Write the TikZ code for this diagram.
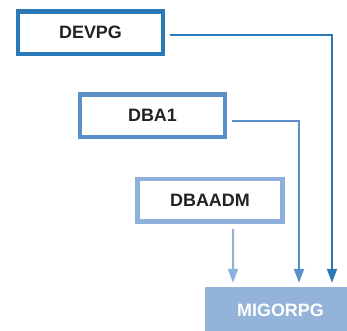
\documentclass[tikz,border=0pt]{standalone}
\usepackage{fontspec}
\setmainfont{Liberation Sans}
\usetikzlibrary{arrows.meta}

\definecolor{devblue}{HTML}{2A7AB9}
\definecolor{dbablue}{HTML}{5B8FC7}
\definecolor{admblue}{HTML}{8EB1DC}
\definecolor{migblue}{HTML}{94B3DA}
\definecolor{textgray}{HTML}{222222}

\tikzset{
	dbbox/.style={draw=#1, line width=4.5bp, fill=white, minimum width=145bp,
		minimum height=42.5bp, inner sep=0pt, font=\fontsize{18}{20}\selectfont\bfseries,
		text=textgray},
	feed/.style={draw=#1, line width=2bp, -{Triangle[length=14bp,width=10bp]},
		shorten >=4bp}
}

\begin{document}
\begin{tikzpicture}[x=1bp,y=-1bp]

	\useasboundingbox (0,0) rectangle (347,331);
	\clip (0,0) rectangle (347,331);

	\node[dbbox=devblue] (devpg) at (90.5,32.5) {DEVPG};
	\node[dbbox=dbablue] (dba1) at (152.5,115.5) {DBA1};
	\node[dbbox=admblue] (dbaadm) at (210,200) {DBAADM};
	\node[fill=migblue, minimum width=150bp, minimum height=46bp, inner sep=0pt,
		font=\fontsize{18}{20}\selectfont\bfseries, text=white] (migorpg) at (280.5,310) {MIGORPG};

	\coordinate (c1) at (233,0);
	\coordinate (c2) at (299,0);
	\coordinate (c3) at (332,0);

	\draw[feed=devblue] ([xshift=5bp,yshift=-2.5bp]devpg.east) -| (c3 |- migorpg.north);
	\draw[feed=dbablue] ([xshift=5bp,yshift=-5bp]dba1.east) -| (c2 |- migorpg.north);
	\draw[feed=admblue] ([xshift=23bp,yshift=-5.5bp]dbaadm.south) -- (c1 |- migorpg.north);

\end{tikzpicture}
\end{document}
